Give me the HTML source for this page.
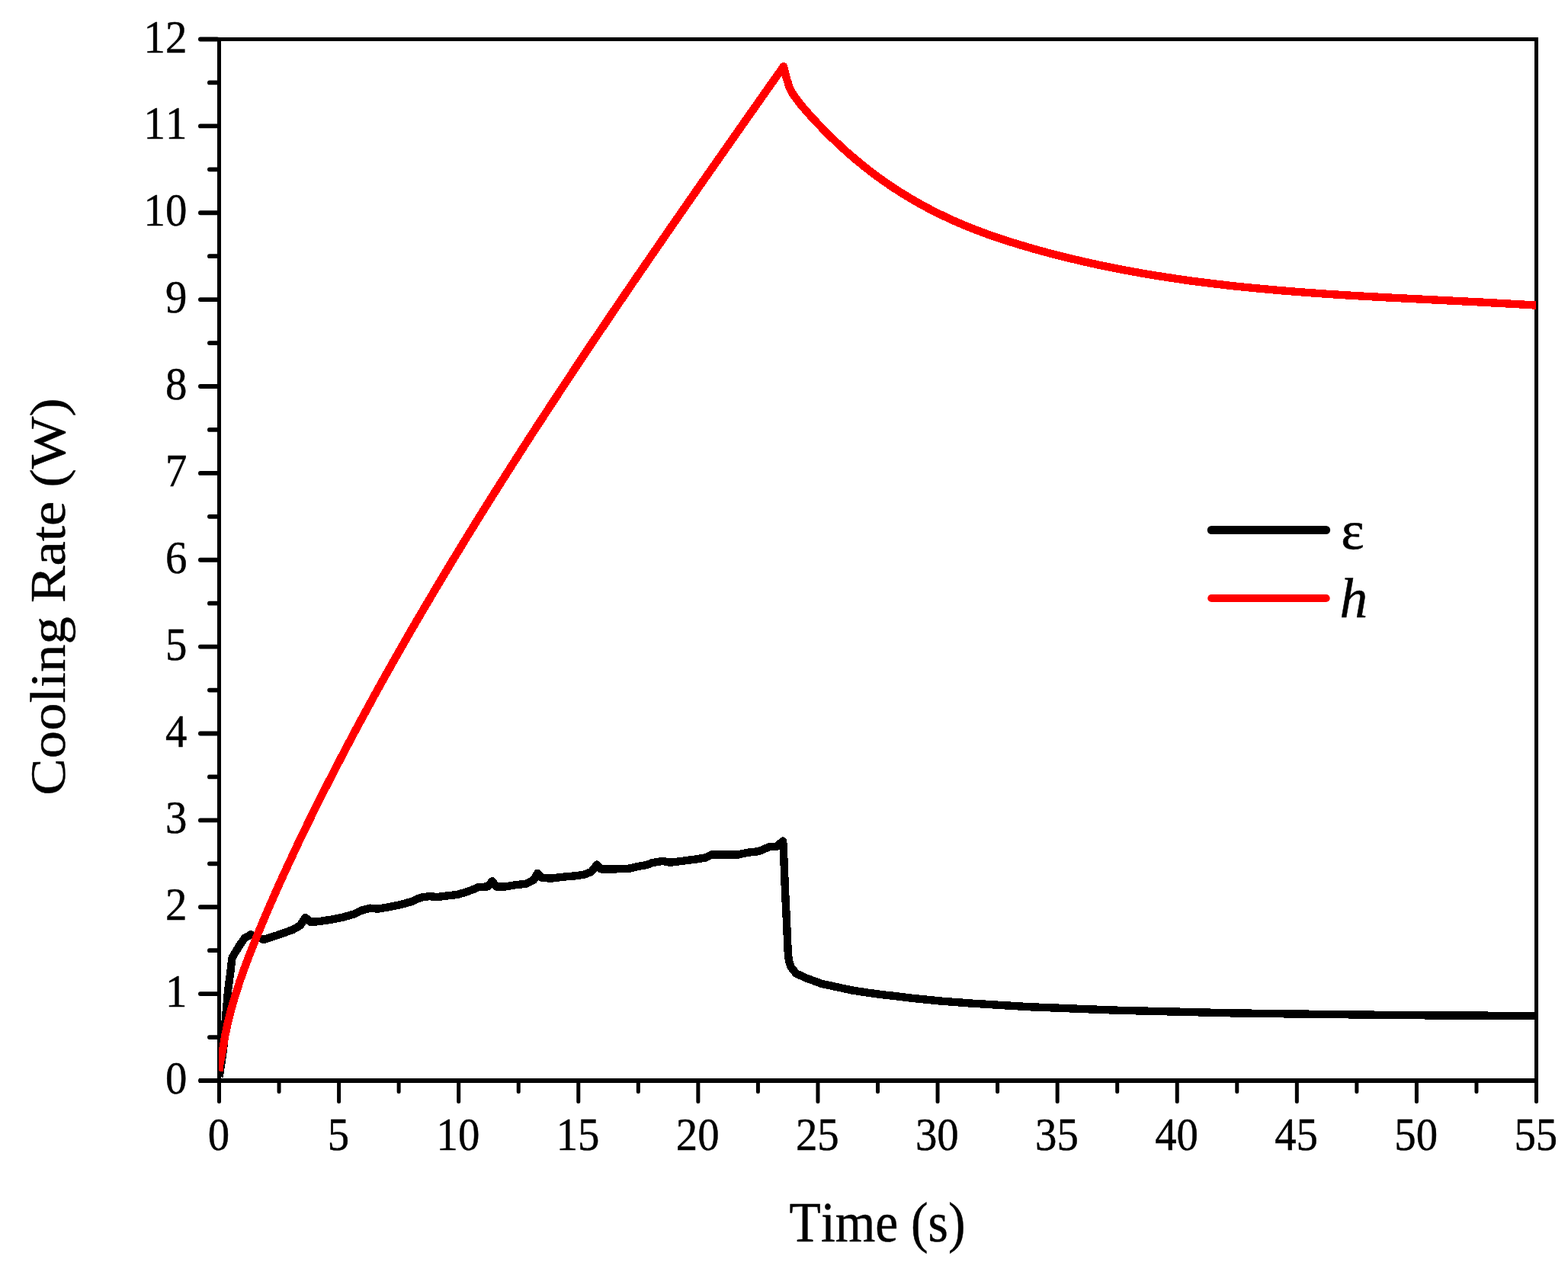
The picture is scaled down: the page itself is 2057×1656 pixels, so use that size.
<!DOCTYPE html>
<html lang="en"><head><meta charset="utf-8"><title>Cooling Rate vs Time</title>
<style>html,body{margin:0;padding:0;background:#fff}body{width:2057px;height:1656px;overflow:hidden}svg{display:block}text{stroke:#000;stroke-width:.5px;stroke-linejoin:round;font-kerning:none;font-variant-ligatures:none;font-family:"Liberation Serif",serif;fill:#000}</style></head><body>
<svg width="2057" height="1656" viewBox="0 0 2057 1656">
<rect width="2057" height="1656" fill="#fff"/>
<g fill="#000" shape-rendering="crispEdges">
<rect x="285" y="49" width="5" height="1397"/>
<rect x="2013" y="49" width="5" height="1397"/>
<rect x="261" y="49" width="1757" height="5"/>
<rect x="261" y="1415" width="1757" height="6"/>
</g>
<g stroke="#000" stroke-linecap="round" fill="none">
<path stroke-width="5.8" d="M262.9 51.5H285 M262.9 1418H285 M274.9 1361.06H286 M262.9 1304.12H286 M274.9 1247.19H286 M262.9 1190.25H286 M274.9 1133.31H286 M262.9 1076.38H286 M274.9 1019.44H286 M262.9 962.50H286 M274.9 905.56H286 M262.9 848.62H286 M274.9 791.69H286 M262.9 734.75H286 M274.9 677.81H286 M262.9 620.88H286 M274.9 563.94H286 M262.9 507.00H286 M274.9 450.06H286 M262.9 393.12H286 M274.9 336.19H286 M262.9 279.25H286 M274.9 222.31H286 M262.9 165.38H286 M274.9 108.44H286"/>
<path stroke-width="5" d="M287.5 1421V1445.5 M2015.5 1421V1445.5 M366.05 1420V1432.5 M444.59 1420V1445.5 M523.14 1420V1432.5 M601.68 1420V1445.5 M680.23 1420V1432.5 M758.77 1420V1445.5 M837.32 1420V1432.5 M915.86 1420V1445.5 M994.41 1420V1432.5 M1072.95 1420V1445.5 M1151.50 1420V1432.5 M1230.05 1420V1445.5 M1308.59 1420V1432.5 M1387.14 1420V1445.5 M1465.68 1420V1432.5 M1544.23 1420V1445.5 M1622.77 1420V1432.5 M1701.32 1420V1445.5 M1779.86 1420V1432.5 M1858.41 1420V1445.5 M1936.95 1420V1432.5"/>
</g>
<clipPath id="plotclip"><rect x="287" y="40" width="1728" height="1381"/></clipPath>
<g fill="none" stroke-linejoin="round" stroke-linecap="butt" clip-path="url(#plotclip)" shape-rendering="crispEdges">
<path d="M287.6 1413.0 L290.2 1396.1 L293.1 1376.7 L295.8 1337.8 L299.2 1298.9 L301.8 1279.4 L304.6 1256.5 L313.8 1241.3 L321.0 1231.0 L329.1 1226.4 L345.8 1233.0 L363.3 1227.4 L383.8 1220.1 L394.0 1214.3 L400.5 1204.0 L407.1 1209.7 L417.8 1209.2 L433.3 1206.9 L448.9 1203.9 L464.5 1199.5 L476.1 1194.0 L485.8 1191.7 L495.6 1192.7 L511.1 1190.1 L526.7 1186.8 L540.3 1182.9 L552.0 1177.7 L563.6 1176.1 L573.3 1177.1 L588.9 1175.2 L600.6 1173.8 L612.2 1170.3 L620.0 1167.4 L627.8 1164.1 L639.5 1163.5 L645.7 1156.3 L651.1 1163.5 L662.8 1163.5 L674.5 1161.5 L690.0 1159.6 L699.7 1155.1 L705.3 1145.8 L710.5 1151.5 L722.0 1152.7 L738.9 1150.7 L754.4 1149.3 L766.1 1147.8 L775.8 1143.9 L783.2 1134.6 L788.5 1140.4 L807.0 1140.4 L826.4 1139.6 L836.1 1137.1 L847.8 1135.1 L855.6 1132.2 L869.2 1129.9 L878.9 1131.8 L894.5 1129.9 L913.9 1127.4 L925.6 1125.4 L933.3 1121.5 L952.8 1121.5 L968.3 1121.5 L982.0 1118.6 L995.6 1117.1 L1009.2 1111.2 L1018.9 1110.8 L1027.2 1103.5 L1028.4 1127.8 L1029.9 1166.7 L1031.8 1205.6 L1033.7 1248.6 L1034.8 1260.0 L1037.4 1268.5 L1044.2 1277.3 L1057.9 1283.5 L1077.8 1290.9 L1097.2 1295.0 L1116.7 1299.3 L1136.1 1302.3 L1155.6 1305.0 L1175.0 1307.1 L1196.7 1309.8 L1235.6 1313.7 L1274.5 1316.6 L1313.4 1319.0 L1352.2 1321.3 L1391.1 1322.8 L1430.0 1324.4 L1468.9 1325.8 L1534.8 1327.4 L1612.6 1329.3 L1690.3 1330.4 L1768.1 1331.3 L1845.9 1332.2 L2015.0 1333.0" stroke="#000" stroke-width="10.4"/>
<path d="M287.5 1405.5 L288.4 1396.1 L292.3 1376.7 L295.3 1358.7 L299.2 1340.7 L303.8 1322.7 L309.1 1304.7 L314.9 1286.7 L321.3 1268.7 L328.1 1250.7 L335.3 1232.7 L342.7 1214.7 L350.3 1196.7 L358.1 1178.7 L366.1 1160.7 L374.3 1142.7 L382.7 1124.7 L391.1 1106.7 L399.8 1088.7 L408.6 1070.7 L417.5 1052.7 L426.6 1034.7 L435.8 1016.7 L445.1 998.7 L454.5 980.7 L464.0 962.7 L473.7 944.7 L483.5 926.7 L493.3 908.7 L503.3 890.7 L513.4 872.7 L523.6 854.7 L533.9 836.7 L544.3 818.7 L554.9 800.7 L565.5 782.7 L576.2 764.7 L587.0 746.7 L597.9 728.7 L608.8 710.7 L619.9 692.7 L631.1 674.7 L642.3 656.7 L653.7 638.7 L665.1 620.7 L676.6 602.7 L688.1 584.7 L699.7 566.7 L711.5 548.7 L723.2 530.7 L735.1 512.7 L747.0 494.7 L758.9 476.7 L770.9 458.7 L783.0 440.7 L795.2 422.7 L807.3 404.7 L819.6 386.7 L831.8 368.7 L844.2 350.7 L856.5 332.7 L868.9 314.7 L881.3 296.7 L893.8 278.7 L906.3 260.7 L918.8 242.7 L931.4 224.7 L944.0 206.7 L956.6 188.7 L969.2 170.7 L981.8 152.7 L994.5 134.7 L1007.1 116.7 L1028.0 87.1 L1031.6 102.3 L1033.7 108.5 L1034.9 113.6 L1037.1 117.9 L1040.8 124.5 L1046.1 131.5 L1051.8 138.9 L1061.8 150.3 L1071.8 161.2 L1081.8 171.6 L1091.8 181.5 L1101.8 191.0 L1111.8 200.1 L1121.8 208.7 L1131.8 216.9 L1141.8 224.8 L1151.8 232.3 L1161.8 239.4 L1171.8 246.2 L1181.8 252.6 L1191.8 258.8 L1201.8 264.6 L1211.8 270.2 L1221.8 275.5 L1231.8 280.5 L1241.8 285.3 L1251.8 289.9 L1261.8 294.2 L1271.8 298.3 L1281.8 302.3 L1291.8 306.0 L1300.0 309.0 L1320.0 315.7 L1340.0 321.9 L1360.0 327.7 L1380.0 333.1 L1400.0 338.1 L1420.0 342.9 L1440.0 347.3 L1460.0 351.5 L1480.0 355.3 L1500.0 358.9 L1520.0 362.2 L1540.0 365.3 L1560.0 368.2 L1580.0 370.8 L1600.0 373.2 L1620.0 375.5 L1640.0 377.5 L1660.0 379.4 L1680.0 381.2 L1700.0 382.8 L1720.0 384.3 L1740.0 385.7 L1760.0 387.0 L1780.0 388.2 L1800.0 389.3 L1820.0 390.4 L1840.0 391.4 L1860.0 392.4 L1880.0 393.4 L1900.0 394.4 L1920.0 395.4 L1940.0 396.4 L1960.0 397.5 L1980.0 398.6 L2000.0 399.7 L2015.0 400.6" stroke="#f00" stroke-width="10.4"/>
</g>
<g>
<text transform="translate(245.30 1435.10) scale(0.9150 1)" font-size="62.00" text-anchor="end">0</text>
<text transform="translate(245.30 1321.22) scale(0.9150 1)" font-size="62.00" text-anchor="end">1</text>
<text transform="translate(245.30 1207.35) scale(0.9150 1)" font-size="62.00" text-anchor="end">2</text>
<text transform="translate(245.30 1093.47) scale(0.9150 1)" font-size="62.00" text-anchor="end">3</text>
<text transform="translate(245.30 979.60) scale(0.9150 1)" font-size="62.00" text-anchor="end">4</text>
<text transform="translate(245.30 865.73) scale(0.9150 1)" font-size="62.00" text-anchor="end">5</text>
<text transform="translate(245.30 751.85) scale(0.9150 1)" font-size="62.00" text-anchor="end">6</text>
<text transform="translate(245.30 637.98) scale(0.9150 1)" font-size="62.00" text-anchor="end">7</text>
<text transform="translate(245.30 524.10) scale(0.9150 1)" font-size="62.00" text-anchor="end">8</text>
<text transform="translate(245.30 410.23) scale(0.9150 1)" font-size="62.00" text-anchor="end">9</text>
<text transform="translate(245.30 296.35) scale(0.9150 1)" font-size="62.00" text-anchor="end">10</text>
<text transform="translate(245.30 182.47) scale(0.9150 1)" font-size="62.00" text-anchor="end">11</text>
<text transform="translate(245.30 68.60) scale(0.9150 1)" font-size="62.00" text-anchor="end">12</text>
<text transform="translate(286.80 1509.00) scale(0.9150 1)" font-size="62.00" text-anchor="middle">0</text>
<text transform="translate(443.89 1509.00) scale(0.9150 1)" font-size="62.00" text-anchor="middle">5</text>
<text transform="translate(600.98 1509.00) scale(0.9150 1)" font-size="62.00" text-anchor="middle">10</text>
<text transform="translate(758.07 1509.00) scale(0.9150 1)" font-size="62.00" text-anchor="middle">15</text>
<text transform="translate(915.16 1509.00) scale(0.9150 1)" font-size="62.00" text-anchor="middle">20</text>
<text transform="translate(1072.25 1509.00) scale(0.9150 1)" font-size="62.00" text-anchor="middle">25</text>
<text transform="translate(1229.35 1509.00) scale(0.9150 1)" font-size="62.00" text-anchor="middle">30</text>
<text transform="translate(1386.44 1509.00) scale(0.9150 1)" font-size="62.00" text-anchor="middle">35</text>
<text transform="translate(1543.53 1509.00) scale(0.9150 1)" font-size="62.00" text-anchor="middle">40</text>
<text transform="translate(1700.62 1509.00) scale(0.9150 1)" font-size="62.00" text-anchor="middle">45</text>
<text transform="translate(1857.71 1509.00) scale(0.9150 1)" font-size="62.00" text-anchor="middle">50</text>
<text transform="translate(2014.80 1509.00) scale(0.9150 1)" font-size="62.00" text-anchor="middle">55</text>
</g>
<text transform="translate(1151.00 1629.00) scale(0.9010 1)" font-size="75.00" text-anchor="middle">Time (s)</text>
<text transform="translate(85.00 783.00) scale(0.8930 1) rotate(-90)" font-size="72.80" text-anchor="middle">Cooling Rate (W)</text>
<g stroke-linecap="round" fill="none">
<path d="M1589.3 695.5H1739.6" stroke="#000" stroke-width="11"/>
<path d="M1589.3 785H1739.6" stroke="#f00" stroke-width="10.2"/>
</g>
<text transform="translate(1759.30 720.30) scale(1.0200 1)" font-size="71.00" text-anchor="start">ε</text>
<text transform="translate(1757.50 810.30) scale(1.0000 1)" font-size="73.50" text-anchor="start" font-style="italic">h</text>
</svg></body></html>
